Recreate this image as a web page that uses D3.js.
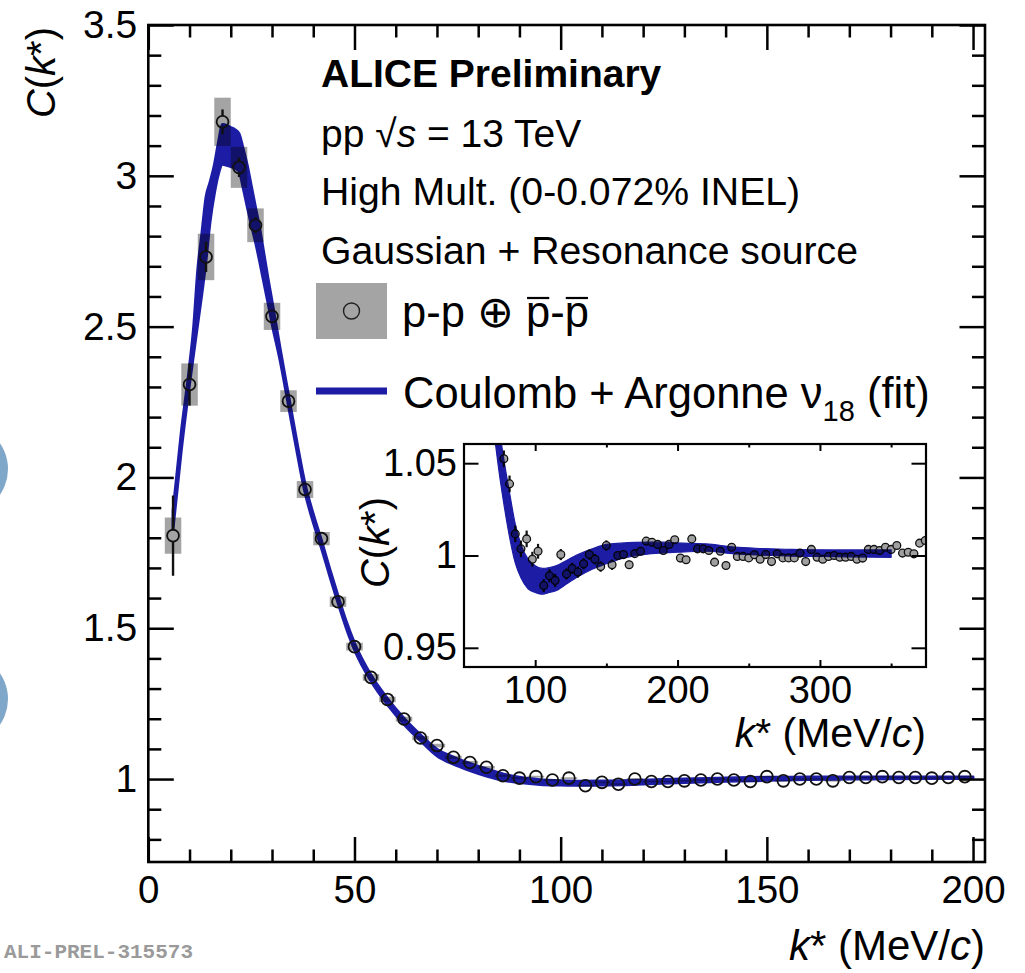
<!DOCTYPE html>
<html><head><meta charset="utf-8">
<script src="https://cdn.jsdelivr.net/npm/d3@7"></script>
<style>
body{margin:0;background:#fff}
svg{display:block}
</style>
</head><body>
<svg id="c" width="1025" height="973"></svg>
<script>
// ---------------- DATA ----------------
const mainK = [6,10,14,18,22,26,30,34,38,42,46,50,54,58,62,66,70,74,78,82,86,90,94,98,102,106,110,114,118,122,126,130,134,138,142,146,150,154,158,162,166,170,174,178,182,186,190,194,198];
const mainC = [1.807,2.308,2.731,3.179,3.028,2.836,2.534,2.253,1.960,1.797,
               1.588,1.439,1.337,1.264,1.199,1.136,1.111,1.072,1.055,1.039,
               1.011,1.003,1.008,0.997,1.003,0.978,0.989,0.983,1.000,0.992,
               0.992,0.994,0.997,1.000,0.997,0.992,1.008,0.994,1.000,1.000,
               0.994,1.005,1.005,1.008,1.005,1.005,1.003,1.005,1.008];
const mainStat = [0.133,0.070,0.050,0.041,0.032,0.026,0.020,0.016,0.013,0.011,
                  0.009,0.008,0.007,0.006,0.006,0.005,0.005,0.005,0.004,0.004,
                  0.0035,0.0035,0.0035,0.003,0.003,0.003,0.003,0.003,0.003,0.0025,
                  0.0025,0.0025,0.0025,0.0025,0.0025,0.0025,0.0025,0.002,0.002,0.002,
                  0.002,0.002,0.002,0.002,0.002,0.002,0.002,0.002,0.002];
const mainSyst = [0.060,0.070,0.077,0.080,0.068,0.056,0.045,0.036,0.028,0.022,
                  0.017,0.013,0.011,0.009,0.008,0.007,0.006,0.0055,0.005,0.0045,
                  0.004,0.0035,0.003,0.003,0.003,0.003,0.003,0.003,0.003,0.003,
                  0.0025,0.0025,0.0025,0.0025,0.0025,0.0025,0.0025,0.0025,0.0025,0.0025,
                  0.0025,0.0025,0.0025,0.0025,0.0025,0.0025,0.0025,0.0025,0.0025];

const insetK = d3.range(78, 375, 4);
const insetC = [1.0524,1.0388,1.0117,1.0036,1.0090,0.9980,1.0023,0.9837,0.9890,0.9865,
                1.0005,0.9900,0.9930,0.9910,0.9955,1.0005,0.9980,0.9940,1.0054,0.9950,
                1.0000,1.0005,0.9950,1.0010,1.0023,1.0078,1.0072,1.0060,1.0027,1.0060,
                1.0085,0.9986,0.9977,1.0090,1.0036,1.0036,1.0027,0.9964,1.0023,0.9946,
                1.0045,0.9995,0.9995,0.9987,1.0004,0.9980,1.0005,0.9967,1.0009,0.9987,
                0.9987,0.9987,1.0013,0.9967,1.0033,0.9991,0.9980,0.9995,1.0000,0.9991,
                0.9991,0.9995,0.9980,0.9986,1.0033,1.0033,1.0027,1.0045,1.0033,1.0054,
                1.0013,1.0018,1.0009,1.0067,1.0081];
const insetStat = [0.0045,0.0045,0.0045,0.0045,0.0045,0.004,0.004,0.0035,0.0035,0.0035,
                   0.003,0.003,0.003,0.003,0.003,0.0028,0.0028,0.0028,0.0028,0.0028,
                   0.0022,0.0022,0.0022,0.0022,0.0022,0.0022,0.0022,0.0022,0.0022,0.0022,
                   0.002,0.002,0.002,0.002,0.002,0.002,0.002,0.002,0.002,0.002,
                   0.002,0.002,0.002,0.002,0.002,0.002,0.002,0.002,0.002,0.002,
                   0.002,0.002,0.002,0.002,0.002,0.002,0.002,0.002,0.002,0.002,
                   0.002,0.002,0.002,0.002,0.002,0.002,0.002,0.002,0.002,0.002,
                   0.002,0.002,0.002,0.002,0.002];

const fitK = [6,8,10,11,12,13,14,15,16,17,
              18,19,20,21,22,23,24,25,26,27,
              28,29,30,32,34,36,38,40,42,44,
              46,48,50,54,58,62,66,70,74,78,
              82,86,90,95,100,105,110,115,120,130,
              140,150,160,170,180,190,200,220,240,260,
              280,300,320,350];
const fitLow = [1.83,2.09,2.31,2.41,2.51,2.61,2.72,2.85,2.94,3.006,
                3.038,3.035,3.03,3.025,3.015,2.96,2.897,2.836,2.78,2.716,
                2.648,2.58,2.51,2.385,2.237,2.089,1.95,1.851,1.765,1.673,
                1.584,1.501,1.429,1.325,1.247,1.182,1.127,1.077,1.049,1.028,
                1.010,0.996,0.988,0.982,0.980,0.979,0.980,0.981,0.9835,0.9885,
                0.9926,0.9955,0.9982,0.9998,1.0008,1.0014,1.0018,1.0023,1.0009,1.0002,
                0.9997,0.9995,0.9993,0.9990];
const fitHigh = [1.89,2.15,2.37,2.50,2.69,2.81,2.93,2.98,3.035,3.11,
                 3.17,3.167,3.16,3.153,3.14,3.09,3.035,2.965,2.896,2.827,
                 2.745,2.662,2.585,2.425,2.273,2.121,1.98,1.879,1.791,1.697,
                 1.608,1.523,1.451,1.345,1.267,1.202,1.147,1.099,1.073,1.052,
                 1.034,1.017,1.006,0.998,0.9945,0.993,0.9935,0.9945,0.9965,1.0005,
                 1.0036,1.006,1.0067,1.0071,1.0072,1.0072,1.0068,1.0063,1.0045,1.0038,
                 1.0033,1.0031,1.003,1.003];

const mainXTicks = [0,50,100,150,200];
const mainXMinor = d3.range(10,201,10).filter(v=>v%50!==0);
const mainYTicks = [1,1.5,2,2.5,3,3.5];
const mainYMinor = d3.range(8,35).filter(v=>v%5!==0).map(v=>v/10);
const insetXTicks = [100,200,300];
const insetXMinor = [150,250,350];
const insetYTicks = [0.95,1,1.05];

// ---------------- SETUP ----------------
const FONT = '"Liberation Sans", Arial, Helvetica, sans-serif';
const BLUE = "#1c1ca4";
const svg = d3.select("#c");
svg.append("rect").attr("width",1025).attr("height",973).attr("fill","#fff");

// decorative circles at left edge
svg.append("circle").attr("cx",-37).attr("cy",469).attr("r",45).attr("fill","#7fa7c9");
svg.append("circle").attr("cx",-37).attr("cy",699).attr("r",45).attr("fill","#7fa7c9");

const M = {l:148.3, r:985, t:25, b:862};
const x = d3.scaleLinear().domain([0,202.9]).range([M.l,M.r]);
const y = d3.scaleLinear().domain([0.725,3.5]).range([M.b,M.t]);

const defs = svg.append("defs");
defs.append("clipPath").attr("id","clipMain").append("rect")
  .attr("x",M.l).attr("y",M.t).attr("width",M.r-M.l).attr("height",M.b-M.t);

const gMain = svg.append("g").attr("clip-path","url(#clipMain)");
const mainData = mainK.map((k,i)=>({k, c:mainC[i], s:mainStat[i], sy:mainSyst[i]}));
const fitData = fitK.map((k,i)=>({k, lo:fitLow[i], hi:fitHigh[i]}));

gMain.selectAll("rect.sys").data(mainData).join("rect").attr("class","sys")
  .attr("x", d=>x(d.k-2)).attr("width", d=>x(d.k+2)-x(d.k-2))
  .attr("y", d=>y(d.c+d.sy)).attr("height", d=>Math.max(1, y(d.c-d.sy)-y(d.c+d.sy)))
  .attr("fill","#a4a4a4");

const areaMain = d3.area().x(d=>x(d.k)).y0(d=>y(d.lo)).y1(d=>y(d.hi)).curve(d3.curveMonotoneX);
gMain.append("path").datum(fitData.filter(d=>d.k<=210)).attr("d",areaMain)
  .attr("fill",BLUE).attr("stroke",BLUE).attr("stroke-width",2.9).attr("stroke-linejoin","round")
  .style("mix-blend-mode","multiply");

const R = 5.9;
gMain.selectAll("line.eu").data(mainData.filter(d=>y(d.c)-y(d.c+d.s)>R)).join("line").attr("class","eu")
  .attr("x1",d=>x(d.k)).attr("x2",d=>x(d.k)).attr("y1",d=>y(d.c+d.s)).attr("y2",d=>y(d.c)-R)
  .attr("stroke","#111").attr("stroke-width",2.4);
gMain.selectAll("line.ed").data(mainData.filter(d=>y(d.c)-y(d.c+d.s)>R)).join("line").attr("class","ed")
  .attr("x1",d=>x(d.k)).attr("x2",d=>x(d.k)).attr("y1",d=>y(d.c)+R).attr("y2",d=>y(d.c-d.s))
  .attr("stroke","#111").attr("stroke-width",2.4);
gMain.selectAll("circle.pt").data(mainData).join("circle").attr("class","pt")
  .attr("cx",d=>x(d.k)).attr("cy",d=>y(d.c)).attr("r",R)
  .attr("fill","none").attr("stroke","#111").attr("stroke-width",1.8);

// axes helper
function fixAxis(g, fs, sw){
  g.select(".domain").remove();
  g.attr("font-family",null).attr("font-size",null);
  g.selectAll("line").attr("stroke","#000").attr("stroke-width",sw);
  g.selectAll("text").attr("font-family",FONT).attr("font-size",fs).attr("fill","#000");
}
// main axes
fixAxis(svg.append("g").attr("transform",`translate(0,${M.b})`)
  .call(d3.axisBottom(x).tickValues(mainXTicks).tickSize(-25).tickPadding(14).tickFormat(d3.format("d"))),38.5,2.5);
fixAxis(svg.append("g").attr("transform",`translate(0,${M.b})`)
  .call(d3.axisBottom(x).tickValues(mainXMinor).tickSize(-12.5).tickFormat("")),38,2.5);
fixAxis(svg.append("g").attr("transform",`translate(0,${M.t})`)
  .call(d3.axisTop(x).tickValues(mainXTicks).tickSize(-25).tickFormat("")),38,2.5);
fixAxis(svg.append("g").attr("transform",`translate(0,${M.t})`)
  .call(d3.axisTop(x).tickValues(mainXMinor).tickSize(-12.5).tickFormat("")),38,2.5);
fixAxis(svg.append("g").attr("transform",`translate(${M.l},0)`)
  .call(d3.axisLeft(y).tickValues(mainYTicks).tickSize(-25.5).tickPadding(11).tickFormat(d=>String(d))),39,2.5);
fixAxis(svg.append("g").attr("transform",`translate(${M.l},0)`)
  .call(d3.axisLeft(y).tickValues(mainYMinor).tickSize(-13).tickFormat("")),38,2.5);
fixAxis(svg.append("g").attr("transform",`translate(${M.r},0)`)
  .call(d3.axisRight(y).tickValues(mainYTicks).tickSize(-25.5).tickFormat("")),38,2.5);
fixAxis(svg.append("g").attr("transform",`translate(${M.r},0)`)
  .call(d3.axisRight(y).tickValues(mainYMinor).tickSize(-13).tickFormat("")),38,2.5);
svg.append("rect").attr("x",M.l).attr("y",M.t).attr("width",M.r-M.l).attr("height",M.b-M.t)
  .attr("fill","none").attr("stroke","#000").attr("stroke-width",2.6);

// ---------------- INSET ----------------
const I = {l:464, r:926, t:444, b:667};
const xi = d3.scaleLinear().domain([50,374.5]).range([I.l,I.r]);
const yi = d3.scaleLinear().domain([0.9396,1.0604]).range([I.b,I.t]);
svg.append("rect").attr("x",I.l).attr("y",I.t).attr("width",I.r-I.l).attr("height",I.b-I.t).attr("fill","#fff");
defs.append("clipPath").attr("id","clipInset").append("rect")
  .attr("x",I.l).attr("y",I.t).attr("width",I.r-I.l).attr("height",I.b-I.t);
const gIn = svg.append("g").attr("clip-path","url(#clipInset)");
const areaIn = d3.area().x(d=>xi(d.k)).y0(d=>yi(d.lo)).y1(d=>yi(d.hi)).curve(d3.curveMonotoneX);
gIn.append("path").datum(fitData.filter(d=>d.k>=54)).attr("d",areaIn)
  .attr("fill",BLUE).attr("stroke",BLUE).attr("stroke-width",1.2).attr("stroke-linejoin","round");
const inData = insetK.map((k,i)=>({k, c:insetC[i], s:insetStat[i]}));
const RI = 3.9;
const gPts = gIn.append("g").style("mix-blend-mode","multiply");
gPts.selectAll("line.e").data(inData.filter(d=>yi(d.c)-yi(d.c+d.s)>RI)).join("line").attr("class","e")
  .attr("x1",d=>xi(d.k)).attr("x2",d=>xi(d.k)).attr("y1",d=>yi(d.c+d.s)).attr("y2",d=>yi(d.c-d.s))
  .attr("stroke","#111").attr("stroke-width",2.2);
gPts.selectAll("circle").data(inData).join("circle")
  .attr("cx",d=>xi(d.k)).attr("cy",d=>yi(d.c)).attr("r",RI)
  .attr("fill","#a0a0a0").attr("stroke","#111").attr("stroke-width",1.3);

fixAxis(svg.append("g").attr("transform",`translate(0,${I.b})`)
  .call(d3.axisBottom(xi).tickValues(insetXTicks).tickSize(-7).tickPadding(9).tickFormat(d3.format("d"))),38,2);
fixAxis(svg.append("g").attr("transform",`translate(0,${I.b})`)
  .call(d3.axisBottom(xi).tickValues(insetXMinor).tickSize(-3.5).tickFormat("")),38,2);
fixAxis(svg.append("g").attr("transform",`translate(0,${I.t})`)
  .call(d3.axisTop(xi).tickValues(insetXTicks).tickSize(-7).tickFormat("")),38,2);
fixAxis(svg.append("g").attr("transform",`translate(0,${I.t})`)
  .call(d3.axisTop(xi).tickValues(insetXMinor).tickSize(-3.5).tickFormat("")),38,2);
fixAxis(svg.append("g").attr("transform",`translate(${I.l},0)`)
  .call(d3.axisLeft(yi).tickValues(insetYTicks).tickSize(-14.5).tickPadding(7).tickFormat(d=>String(d))),38,2);
fixAxis(svg.append("g").attr("transform",`translate(${I.r},0)`)
  .call(d3.axisRight(yi).tickValues(insetYTicks).tickSize(-14.5).tickFormat("")),38,2);
svg.append("rect").attr("x",I.l).attr("y",I.t).attr("width",I.r-I.l).attr("height",I.b-I.t)
  .attr("fill","none").attr("stroke","#000").attr("stroke-width",2.2);

// ---------------- TEXT ----------------
function txt(xp, yp, fs, opts={}){
  const t = svg.append("text").attr("x",xp).attr("y",yp).attr("font-family",FONT)
    .attr("font-size",fs).attr("fill",opts.fill||"#000");
  if(opts.anchor) t.attr("text-anchor",opts.anchor);
  if(opts.weight) t.attr("font-weight",opts.weight);
  if(opts.transform) t.attr("transform",opts.transform).attr("x",0).attr("y",0);
  return t;
}
function ckTitle(t){
  t.append("tspan").attr("font-style","italic").text("C");
  t.append("tspan").text("(");
  t.append("tspan").attr("font-style","italic").text("k");
  t.append("tspan").text("*)");
}
function kTitle(t){
  t.append("tspan").attr("font-style","italic").text("k");
  t.append("tspan").text("* (MeV/");
  t.append("tspan").attr("font-style","italic").text("c");
  t.append("tspan").text(")");
}
ckTitle(txt(0,0,40,{anchor:"end",transform:"translate(55,27) rotate(-90)"}));
kTitle(txt(985,960,42,{anchor:"end"}));
ckTitle(txt(0,0,40,{anchor:"end",transform:"translate(389,497) rotate(-90)"}));
kTitle(txt(926,747,41,{anchor:"end"}));

txt(4,958,21,{fill:"#9a9a9a",weight:"bold"}).attr("font-family",'"Liberation Mono", "DejaVu Sans Mono", monospace').text("ALI-PREL-315573");

txt(321,87,39,{weight:"bold"}).text("ALICE Preliminary");
const t2 = txt(321,147,39);
t2.append("tspan").text("pp  \u221A");
t2.append("tspan").attr("font-style","italic").text("s");
t2.append("tspan").text(" = 13 TeV");
txt(321,205,39.2).text("High Mult. (0-0.072% INEL)");
txt(321,264,39.2).text("Gaussian + Resonance source");

// legend entries
svg.append("rect").attr("x",316).attr("y",283).attr("width",71).attr("height",56).attr("fill","#a4a4a4");
svg.append("circle").attr("cx",351.5).attr("cy",311).attr("r",8).attr("fill","none").attr("stroke","#222").attr("stroke-width",1.4);
const t5 = txt(402,327,43.5);
t5.append("tspan").text("p-p \u2295 ");
t5.append("tspan").text("p");
t5.append("tspan").text("-");
t5.append("tspan").text("p");
const n5 = t5.node();
[6,8].forEach(i=>{
  const s = n5.getStartPositionOfChar(i), e = n5.getEndPositionOfChar(i);
  svg.append("line").attr("x1",s.x+1).attr("x2",e.x-1).attr("y1",298).attr("y2",298)
    .attr("stroke","#000").attr("stroke-width",2.2);
});

svg.append("line").attr("x1",316).attr("x2",387).attr("y1",391).attr("y2",391).attr("stroke",BLUE).attr("stroke-width",7);
const t6 = txt(403,408,43.5);
t6.append("tspan").text("Coulomb + Argonne \u03BD");
t6.append("tspan").attr("font-size",29).attr("dy",13).text("18");
t6.append("tspan").attr("dy",-13).text(" (fit)");
</script>
</body></html>
